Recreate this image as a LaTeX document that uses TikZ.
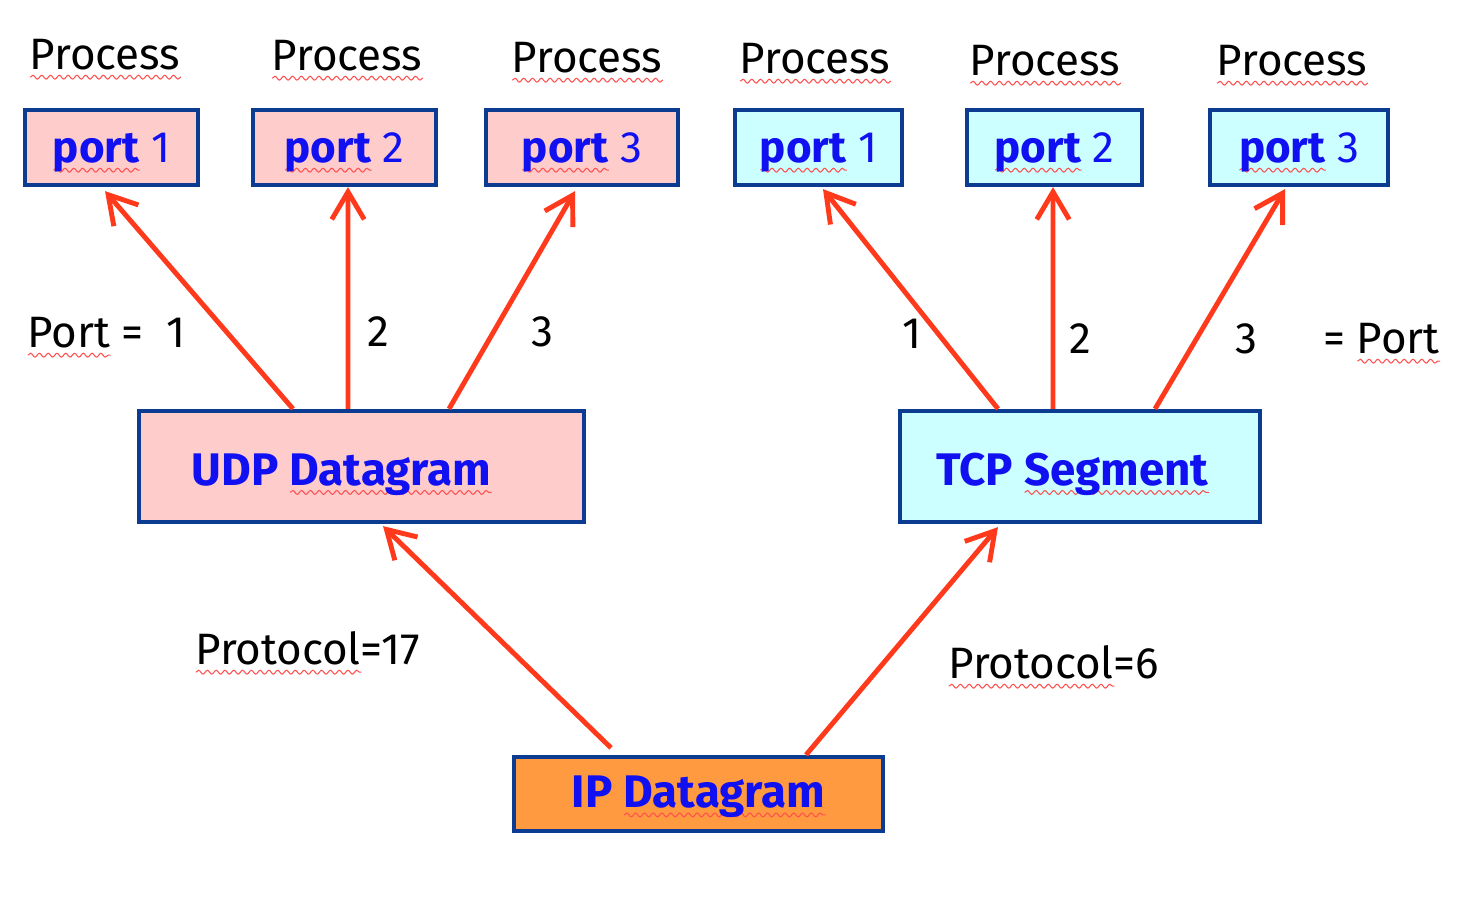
\documentclass[tikz,border=0pt]{standalone}
\usepackage{fontspec}
\usepackage{xcolor}
\usetikzlibrary{arrows.meta, decorations.pathmorphing}
\setmainfont{Fira Sans}
\definecolor{udpfill}{HTML}{FFCCCC}
\definecolor{tcpfill}{HTML}{CCFFFF}
\definecolor{ipfill}{HTML}{FF9A40}
\definecolor{edgeblue}{HTML}{0B3C92}
\definecolor{labelblue}{HTML}{1010F0}
\definecolor{arrowred}{HTML}{FF3A1C}
\definecolor{squigred}{HTML}{FF5050}
\newsavebox\squigbox
\newcommand\squig[1]{\sbox\squigbox{#1}\rlap{\smash{\raisebox{-5.5pt}{\tikz\draw[squigred, line width=0.6pt, decorate,
  decoration={snake, amplitude=1.1pt, segment length=5pt}] (0,0) -- (\wd\squigbox,0);}}}\usebox\squigbox}

\begin{document}
\begin{tikzpicture}[
    box/.style={draw=edgeblue, line width=2.4pt, minimum height=1.5cm, inner sep=0pt,
      text=labelblue, font=\fontsize{25}{28}\selectfont, text height=0.8cm, text depth=0.18cm},
    bigbox/.style={box, minimum height=2.22cm, font=\fontsize{26}{30}\selectfont\bfseries,
      text height=0.95cm, text depth=0.2cm},
    lbl/.style={font=\fontsize{25}{28}\selectfont, anchor=base, inner sep=0pt},
    arr/.style={arrowred, line width=2.8pt, -{Straight Barb[length=0.55cm, width=0.65cm, line width=2.8pt]}}
  ]
    \useasboundingbox (0,0) rectangle (29.28,18.16);
    % process labels
    \node[lbl] (pr1) at (2.10,16.76) {\squig{Process}};
    \node[lbl] (pr2) at (6.94,16.74) {\squig{Process}};
    \node[lbl] (pr3) at (11.74,16.70) {\squig{Process}};
    \node[lbl] (pr4) at (16.30,16.68) {\squig{Process}};
    \node[lbl] (pr5) at (20.90,16.64) {\squig{Process}};
    \node[lbl] (pr6) at (25.84,16.64) {\squig{Process}};
    % port boxes
    \node[box, fill=udpfill, minimum width=3.46cm] (up1) at (2.23,15.21) {{\bfseries\squig{port}} 1};
    \node[box, fill=udpfill, minimum width=3.66cm] (up2) at (6.89,15.21) {{\bfseries\squig{port}} 2};
    \node[box, fill=udpfill, minimum width=3.84cm] (up3) at (11.64,15.21) {{\bfseries\squig{port}} 3};
    \node[box, fill=tcpfill, minimum width=3.34cm] (tp1) at (16.37,15.21) {{\bfseries\squig{port}} 1};
    \node[box, fill=tcpfill, minimum width=3.50cm] (tp2) at (21.09,15.21) {{\bfseries\squig{port}} 2};
    \node[box, fill=tcpfill, minimum width=3.56cm] (tp3) at (25.98,15.21) {{\bfseries\squig{port}} 3};
    % transport and ip
    \node[bigbox, fill=udpfill, minimum width=8.9cm] (udp) at (7.23,8.83) {\hspace*{-0.8cm}UDP \squig{Datagram}};
    \node[bigbox, fill=tcpfill, minimum width=7.2cm] (tcp) at (21.60,8.83) {\hspace*{-0.3cm}TCP \squig{Segment}};
    \node[bigbox, fill=ipfill, minimum width=7.38cm, minimum height=1.48cm, text height=0.75cm] (ip) at (13.97,2.28) {IP \squig{Datagram}};
    % arrows
    \draw[arr] ([xshift=-1.37cm]udp.north) -- ([xshift=-0.13cm, yshift=-0.08cm]up1.south);
    \draw[arr] ([xshift=-0.27cm]udp.north) -- ([xshift=0.07cm]up2.south);
    \draw[arr] ([xshift=1.75cm]udp.north) -- ([xshift=-0.14cm, yshift=-0.08cm]up3.south);
    \draw[arr] ([xshift=-1.64cm]tcp.north) -- ([xshift=0.09cm, yshift=-0.04cm]tp1.south);
    \draw[arr] ([xshift=-0.54cm]tcp.north) -- ([xshift=-0.03cm]tp2.south);
    \draw[arr] ([xshift=1.50cm]tcp.north) -- ([xshift=-0.28cm, yshift=-0.04cm]tp3.south);
    \draw[arr] ([xshift=-1.75cm, yshift=0.14cm]ip.north) -- ([xshift=0.43cm, yshift=-0.04cm]udp.south);
    \draw[arr] ([xshift=2.15cm]ip.north) -- ([xshift=-1.64cm, yshift=-0.06cm]tcp.south);
    % port numbers
    \node[lbl, anchor=base west] (pl) at (0.54,11.20) {\squig{Port} =\ \ 1};
    \node[lbl] (n2) at (7.56,11.22) {2};
    \node[lbl] (n3) at (10.84,11.22) {3};
    \node[lbl] (m1) at (18.24,11.18) {1};
    \node[lbl] (m2) at (21.60,11.08) {2};
    \node[lbl] (m3) at (24.92,11.08) {3};
    \node[lbl, anchor=base west] (pr) at (26.46,11.08) {= \squig{Port}};
    % protocol numbers
    \node[lbl, anchor=base west] (pu) at (3.90,4.86) {\squig{Protocol}=17};
    \node[lbl, anchor=base west] (pt) at (18.96,4.58) {\squig{Protocol}=6};
  \end{tikzpicture}
\end{document}
